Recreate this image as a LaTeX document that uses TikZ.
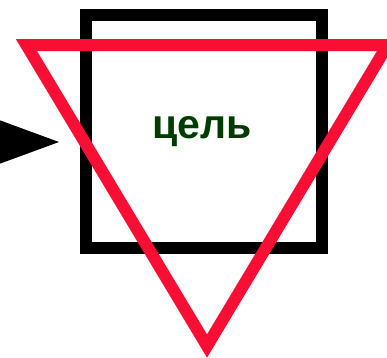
\documentclass[tikz,border=0pt]{standalone}
\usepackage{fontspec}
\setmainfont{Liberation Sans}
\definecolor{tred}{RGB}{250,14,52}
\definecolor{tgreen}{RGB}{0,60,0}
\begin{document}
\begin{tikzpicture}[x=1pt,y=-1pt,
  framebox/.style={draw=black,line width=12pt,miter limit=10},
  redtri/.style={draw=tred,line width=12pt,line join=miter,miter limit=10},
  lbl/.style={font=\bfseries\fontsize{41}{41}\selectfont,text=tgreen,inner sep=0pt}]
\useasboundingbox (0,0) rectangle (387,357);
\begin{scope}
\clip (0,0) rectangle (387,357);
\draw[framebox] (86,15) rectangle (322,248);
\draw[redtri] (26.4,45) -- (387.6,45) -- (207,346) -- cycle;
\fill[black] (-20,113) -- (59,142) -- (-20,171) -- cycle;
\node[lbl,anchor=base] (goal) at (202,138.5) {цель};
\end{scope}
\end{tikzpicture}
\end{document}
